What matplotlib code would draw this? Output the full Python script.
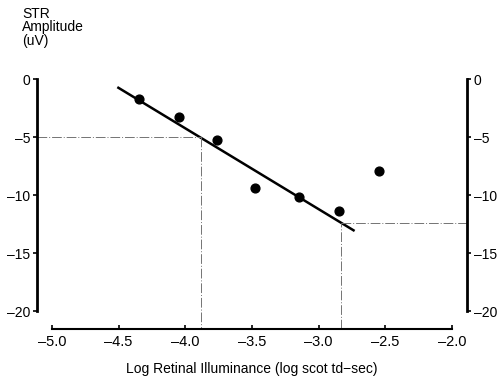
import numpy as np
import matplotlib.pyplot as plt

plt.rcParams['font.family'] = ['Liberation Sans', 'DejaVu Sans']

# measured STR amplitude vs log retinal illuminance
log_illum = [-4.35, -4.05, -3.76, -3.48, -3.15, -2.85, -2.55]
amplitude = [-1.7, -3.3, -5.3, -9.4, -10.2, -11.4, -7.9]

# fitted regression line end points
fit_x = [-4.51, -2.73]
fit_y = [-0.7, -13.1]

# criterion lines (threshold at -5 uV and at the saturated level)
crit1_x, crit1_y = -3.88, -5.0
crit2_x, crit2_y = -2.83, -12.4

xticks = [-5.0, -4.5, -4.0, -3.5, -3.0, -2.5, -2.0]
yticks = [0, -5, -10, -15, -20]

W, H = 499, 379
fig = plt.figure(figsize=(W / 100, H / 100), dpi=100)
ax = fig.add_axes([37 / W, 50 / H, 430 / W, 254 / H])

xmin, xmax = -5.1125, -1.887
ymin, ymax = -21.55, 0.345
ax.set_xlim(xmin, xmax)
ax.set_ylim(ymin, ymax)

ax.plot(fit_x, fit_y, color='black', lw=1.8, solid_capstyle='butt')
ax.scatter(log_illum, amplitude, s=40, color='black', zorder=3)

ls = (0, (10, 2, 1, 2))
gc = '0.45'
ax.plot([xmin, crit1_x], [crit1_y, crit1_y], color=gc, lw=0.7, ls=ls)
ax.plot([crit1_x, crit1_x], [crit1_y, ymin], color=gc, lw=0.7, ls=ls)
ax.plot([crit2_x, crit2_x], [ymin, crit2_y], color=gc, lw=0.7, ls=ls)
ax.plot([crit2_x, xmax], [crit2_y, crit2_y], color=gc, lw=0.7, ls=ls)

ax.spines['top'].set_visible(False)
ax.spines['left'].set_bounds(-20, 0)
ax.spines['right'].set_bounds(-20, 0)
ax.spines['bottom'].set_bounds(-5, -2)
ax.spines['left'].set_linewidth(2)
ax.spines['right'].set_linewidth(2)
ax.spines['bottom'].set_linewidth(1.5)

ax.set_xticks(xticks)
ax.set_xticklabels([('%.1f' % v).replace('-', '\u2013') for v in xticks])
ax.set_yticks(yticks)
ax.set_yticklabels([str(v).replace('-', '\u2013') for v in yticks])
ax.yaxis.set_ticks_position('both')
ax.tick_params(axis='y', labelright=True, direction='out', length=3, width=1.2,
               labelsize=10, pad=2)
ax.tick_params(axis='x', direction='in', length=3, width=1.2, labelsize=10.5, pad=4)

ax.set_xlabel('Log Retinal Illuminance (log scot td\u2212sec)', fontsize=10, labelpad=10)
fig.text(22 / W, 1 - 7 / H, 'STR\nAmplitude\n(uV)', fontsize=10, va='top', ha='left',
         linespacing=0.95)

fig.savefig('out.png', dpi=100)
